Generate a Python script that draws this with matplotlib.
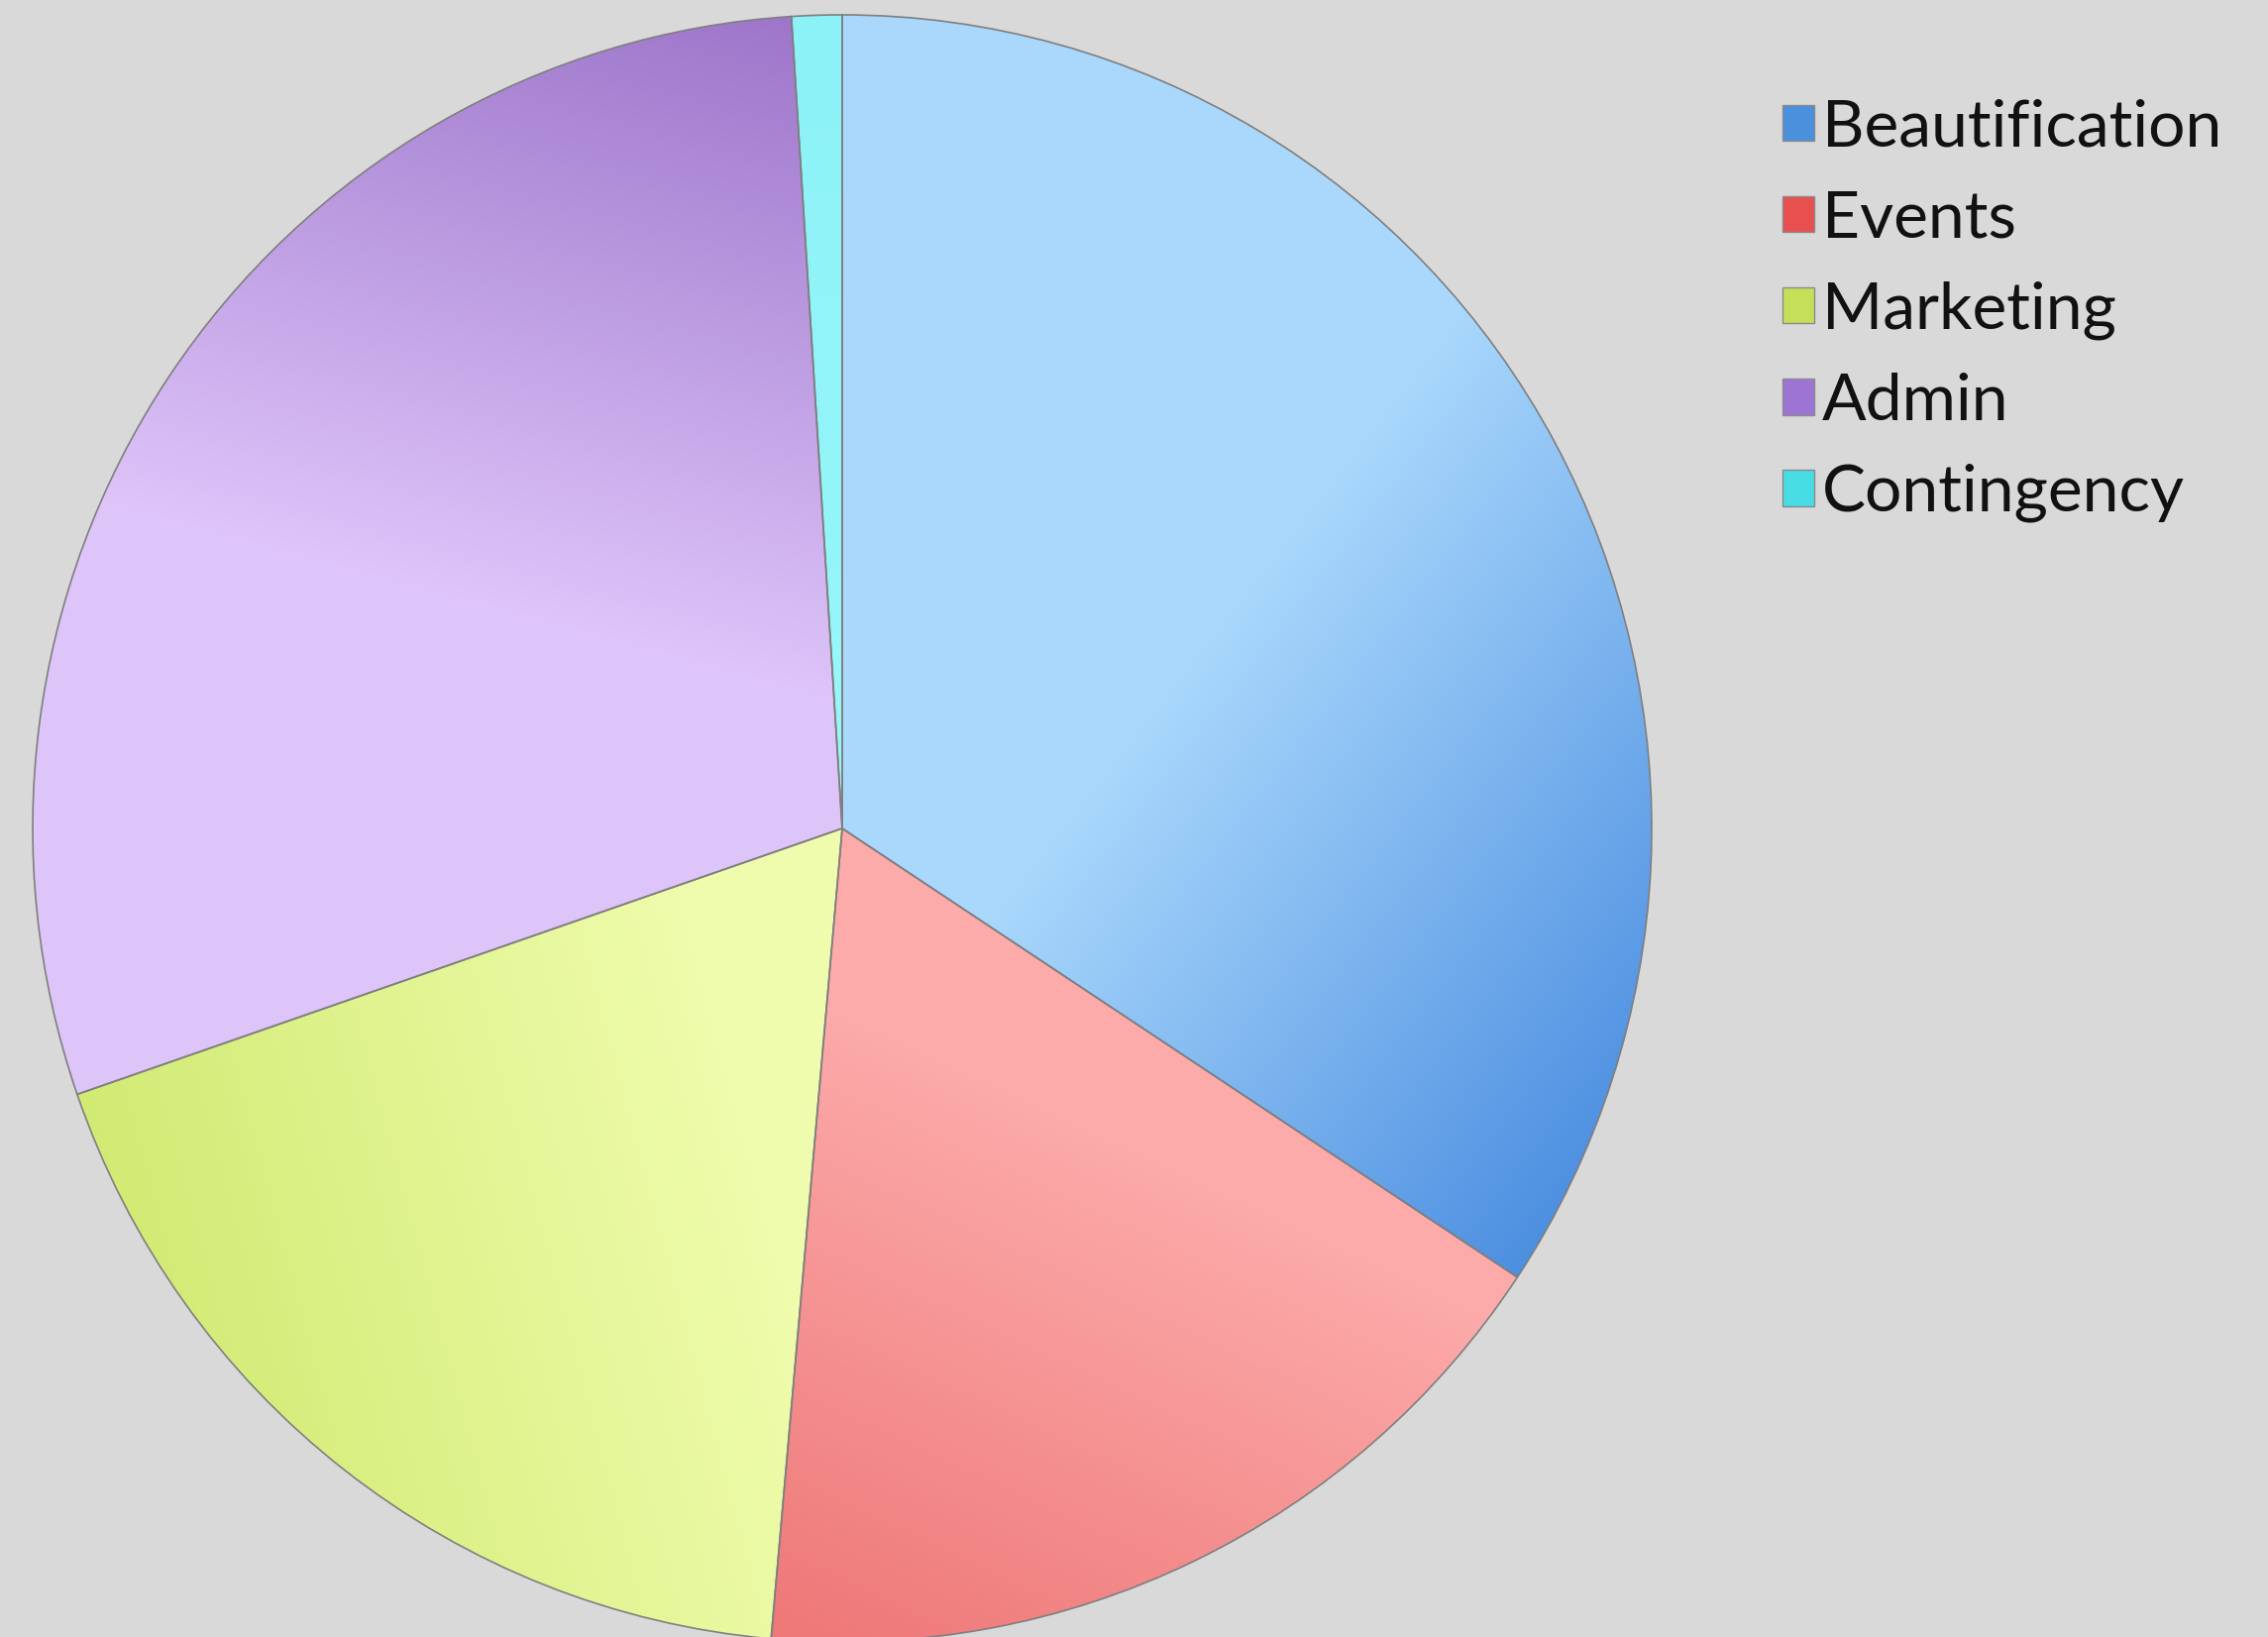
import numpy as np
import matplotlib
matplotlib.use("Agg")
import matplotlib.pyplot as plt
from matplotlib.patches import Patch

categories = ["Beautification", "Events", "Marketing", "Admin", "Contingency"]
values = [34.3, 17.1, 18.3, 29.3, 1.0]

# gradient styling per wedge: (light rgb, dark rgb, direction deg, start, end)
grads = [
    ((0.67, 0.85, 0.99), (0.30, 0.56, 0.88), -38, 0.2, 1.0),
    ((0.99, 0.67, 0.67), (0.93, 0.45, 0.45), -115, 0.2, 1.0),
    ((0.94, 0.99, 0.68), (0.82, 0.92, 0.45), 195, 0.2, 1.0),
    ((0.87, 0.77, 0.98), (0.60, 0.44, 0.78), 75, 0.15, 1.0),
    ((0.60, 0.97, 0.98), (0.55, 0.95, 0.97), 90, 0.0, 1.0),
]
legend_colors = ["#4a90dc", "#e85050", "#c4e058", "#9c74d4", "#48dce4"]

W, H = 2289, 1652
fig = plt.figure(figsize=(W / 100, H / 100), dpi=100)
fig.patch.set_facecolor("#d9d9d9")

cx, cy, rx, ry = 850, 836, 817, 821
ax = fig.add_axes([(cx - rx) / W, (H - cy - ry) / H, 2 * rx / W, 2 * ry / H])
ax.axis("off")

wedges, _ = ax.pie(values, startangle=90, counterclock=False, radius=1,
                   wedgeprops=dict(facecolor="none", edgecolor="#7f7f7f", linewidth=1.2, zorder=3))

N = 700
xs = np.linspace(-1, 1, N)
X, Y = np.meshgrid(xs, xs[::-1])
for w, (c1, c2, ang, a, b) in zip(wedges, grads):
    d = np.deg2rad(ang)
    p = X * np.cos(d) + Y * np.sin(d)
    t = np.clip((p - a) / (b - a), 0, 1)[..., None]
    img = np.array(c1)[None, None, :] * (1 - t) + np.array(c2)[None, None, :] * t
    im = ax.imshow(img, extent=(-1, 1, -1, 1), origin="upper", zorder=1, interpolation="bilinear")
    im.set_clip_path(w)
ax.set_xlim(-1, 1)
ax.set_ylim(-1, 1)
ax.set_aspect("auto")

handles = [Patch(facecolor=c, edgecolor="#8a8a8a", linewidth=1) for c in legend_colors]
leg = fig.legend(handles, categories, loc="upper left", bbox_to_anchor=(1773 / W, 1 - 73 / H),
                 frameon=False, handlelength=0.48, handleheight=0.48,
                 handletextpad=0.12, labelspacing=0.50, borderaxespad=0,
                 prop={"family": "Lato", "size": 47.5})
for t in leg.get_texts():
    t.set_color("#111111")

fig.savefig("out.png", dpi=100, facecolor=fig.get_facecolor())
